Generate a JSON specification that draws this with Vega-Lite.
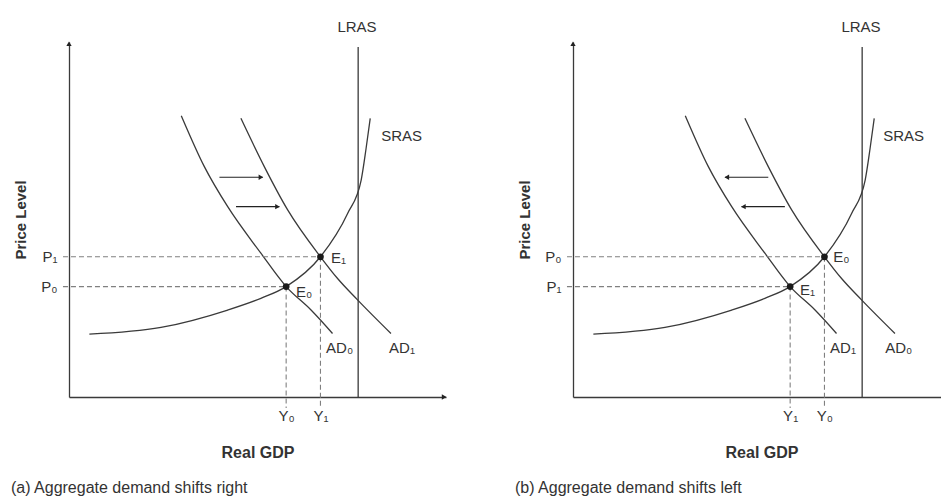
{
  "$schema": "https://vega.github.io/schema/vega-lite/v6.json",
  "autosize": {"type": "pad"},
  "padding": {"left": 10, "top": 20, "right": 0, "bottom": 0},
  "background": "white",
  "bounds": "flush",
  "spacing": 127,
  "config": {
    "view": {"stroke": null},
    "font": "Liberation Sans",
    "axis": {
      "grid": false, "ticks": false,
      "domainColor": "#3a3a3a", "domainWidth": 1.3,
      "labelFont": "Liberation Sans", "labelFontSize": 15, "labelColor": "#333",
      "titleFont": "Liberation Sans", "titleFontSize": 15, "titleFontWeight": "bold", "titleColor": "#333"
    }
  },
  "datasets": {
    "curves": [
      {"curve": "ADL", "ord": 1, "x": 29.8, "y": 79.2},
      {"curve": "ADL", "ord": 2, "x": 35.9, "y": 64.9},
      {"curve": "ADL", "ord": 3, "x": 42.1, "y": 53.6},
      {"curve": "ADL", "ord": 4, "x": 50.9, "y": 40.5},
      {"curve": "ADL", "ord": 5, "x": 57.6, "y": 31.1},
      {"curve": "ADL", "ord": 6, "x": 64.2, "y": 24.5},
      {"curve": "ADL", "ord": 7, "x": 69.9, "y": 17.9},
      {"curve": "ADR", "ord": 1, "x": 45.6, "y": 78.5},
      {"curve": "ADR", "ord": 2, "x": 51.8, "y": 64.9},
      {"curve": "ADR", "ord": 3, "x": 58.0, "y": 52.7},
      {"curve": "ADR", "ord": 4, "x": 66.7, "y": 39.5},
      {"curve": "ADR", "ord": 5, "x": 71.3, "y": 33.3},
      {"curve": "ADR", "ord": 6, "x": 76.6, "y": 27.3},
      {"curve": "ADR", "ord": 7, "x": 85.4, "y": 17.9},
      {"curve": "SRAS", "ord": 1, "x": 5.4, "y": 17.7},
      {"curve": "SRAS", "ord": 2, "x": 24.4, "y": 19.6},
      {"curve": "SRAS", "ord": 3, "x": 42.1, "y": 24.5},
      {"curve": "SRAS", "ord": 4, "x": 50.9, "y": 27.8},
      {"curve": "SRAS", "ord": 5, "x": 57.6, "y": 31.1},
      {"curve": "SRAS", "ord": 6, "x": 66.7, "y": 39.5},
      {"curve": "SRAS", "ord": 7, "x": 73.9, "y": 51.7},
      {"curve": "SRAS", "ord": 8, "x": 77.5, "y": 61.1},
      {"curve": "SRAS", "ord": 9, "x": 78.8, "y": 70.0},
      {"curve": "SRAS", "ord": 10, "x": 79.9, "y": 78.5}
    ],
    "lras": [{"x": 76.7, "y": 0, "y2": 98.6}],
    "guides": [
      {"x": -1.6, "x2": 57.6, "y": 31.1, "y2": 31.1},
      {"x": -1.6, "x2": 66.7, "y": 39.5, "y2": 39.5},
      {"x": 57.6, "x2": 57.6, "y": 31.1, "y2": -3.1},
      {"x": 66.7, "x2": 66.7, "y": 39.5, "y2": -3.1}
    ],
    "eq": [{"x": 57.6, "y": 31.1}, {"x": 66.7, "y": 39.5}],
    "arrows": [
      {"panel": "a", "x": 39.9, "x2": 51.4, "y": 61.9},
      {"panel": "a", "x": 44.3, "x2": 55.8, "y": 53.6},
      {"panel": "b", "x": 40.3, "x2": 51.8, "y": 61.9},
      {"panel": "b", "x": 44.7, "x2": 56.2, "y": 53.6}
    ],
    "heads": [
      {"panel": "a", "x": 50.9, "y": 61.9, "shape": "triangle-right"},
      {"panel": "a", "x": 55.3, "y": 53.6, "shape": "triangle-right"},
      {"panel": "a", "x": 0, "y": 99.5, "shape": "triangle-up"},
      {"panel": "a", "x": 99.5, "y": 0, "shape": "triangle-right"},
      {"panel": "b", "x": 40.8, "y": 61.9, "shape": "triangle-left"},
      {"panel": "b", "x": 45.2, "y": 53.6, "shape": "triangle-left"},
      {"panel": "b", "x": 0, "y": 99.5, "shape": "triangle-up"},
      {"panel": "b", "x": 99.5, "y": 0, "shape": "triangle-right"}
    ],
    "labels": [
      {"panel": "a", "text": "SRAS", "x": 82.8, "y": 73.5},
      {"panel": "a", "text": "E\u2081", "x": 69.5, "y": 39.2},
      {"panel": "a", "text": "E\u2080", "x": 60.2, "y": 29.6},
      {"panel": "a", "text": "AD\u2080", "x": 68.2, "y": 13.8},
      {"panel": "a", "text": "AD\u2081", "x": 84.9, "y": 13.8},
      {"panel": "b", "text": "SRAS", "x": 82.3, "y": 73.5},
      {"panel": "b", "text": "E\u2080", "x": 69.0, "y": 39.5},
      {"panel": "b", "text": "E\u2081", "x": 60.2, "y": 30.1},
      {"panel": "b", "text": "AD\u2081", "x": 68.2, "y": 13.8},
      {"panel": "b", "text": "AD\u2080", "x": 82.8, "y": 13.8}
    ],
    "tops": [{"text": "LRAS", "x": 76.4, "y": 104.2}],
    "captions": [
      {"panel": "a", "text": "(a) Aggregate demand shifts right", "x": -15.4, "y": -25.6},
      {"panel": "b", "text": "(b) Aggregate demand shifts left", "x": -15.4, "y": -25.6}
    ]
  },
  "hconcat": [
    {
      "width": 377, "height": 355,
      "encoding": {
        "x": {"field": "x", "type": "quantitative", "scale": {"domain": [0, 100], "nice": false, "zero": false},
              "axis": {"values": [57.6, 66.7], "labelExpr": "datum.value < 60 ? 'Y\u2080' : 'Y\u2081'", "title": "Real GDP", "labelPadding": 11, "titlePadding": 21, "titleFontSize": 16}},
        "y": {"field": "y", "type": "quantitative", "scale": {"domain": [0, 100], "nice": false, "zero": false},
              "axis": {"values": [31.1, 39.5], "labelExpr": "datum.value < 35 ? 'P\u2080' : 'P\u2081'", "title": "Price Level", "labelPadding": 12, "titlePadding": 12}}
      },
      "layer": [
        {"data": {"name": "curves"}, "mark": {"type": "line", "interpolate": "monotone", "color": "#3a3a3a", "strokeWidth": 1.3, "clip": false},
         "encoding": {"detail": {"field": "curve"}, "order": {"field": "ord", "type": "quantitative"}}},
        {"data": {"name": "lras"}, "mark": {"type": "rule", "color": "#3a3a3a", "strokeWidth": 1.3},
         "encoding": {"y2": {"field": "y2"}}},
        {"data": {"name": "guides"}, "mark": {"type": "rule", "color": "#808080", "strokeWidth": 1.1, "strokeDash": [5, 3]},
         "encoding": {"x2": {"field": "x2"}, "y2": {"field": "y2"}}},
        {"data": {"name": "arrows"}, "transform": [{"filter": "datum.panel == 'a'"}], "mark": {"type": "rule", "color": "#222", "strokeWidth": 1.2},
         "encoding": {"x2": {"field": "x2"}}},
        {"data": {"name": "heads"}, "transform": [{"filter": "datum.panel == 'a'"}], "mark": {"type": "point", "filled": true, "color": "#222", "size": 28, "opacity": 1},
         "encoding": {"shape": {"field": "shape", "type": "nominal", "scale": null}}},
        {"data": {"name": "eq"}, "mark": {"type": "circle", "color": "#1a1a1a", "size": 45, "opacity": 1}, "encoding": {}},
        {"data": {"name": "labels"}, "transform": [{"filter": "datum.panel == 'a'"}], "mark": {"type": "text", "align": "left", "baseline": "middle", "fontSize": 15, "color": "#333"},
         "encoding": {"text": {"field": "text"}}},
        {"data": {"name": "tops"}, "mark": {"type": "text", "align": "center", "baseline": "middle", "fontSize": 15, "color": "#333"},
         "encoding": {"text": {"field": "text"}}},
        {"data": {"name": "captions"}, "transform": [{"filter": "datum.panel == 'a'"}], "mark": {"type": "text", "align": "left", "baseline": "middle", "fontSize": 16, "color": "#333"},
         "encoding": {"text": {"field": "text"}}}
      ]
    },
    {
      "width": 377, "height": 355,
      "encoding": {
        "x": {"field": "x", "type": "quantitative", "scale": {"domain": [0, 100], "nice": false, "zero": false},
              "axis": {"values": [57.6, 66.7], "labelExpr": "datum.value < 60 ? 'Y\u2081' : 'Y\u2080'", "title": "Real GDP", "labelPadding": 11, "titlePadding": 21, "titleFontSize": 16}},
        "y": {"field": "y", "type": "quantitative", "scale": {"domain": [0, 100], "nice": false, "zero": false},
              "axis": {"values": [31.1, 39.5], "labelExpr": "datum.value < 35 ? 'P\u2081' : 'P\u2080'", "title": "Price Level", "labelPadding": 12, "titlePadding": 12}}
      },
      "layer": [
        {"data": {"name": "curves"}, "mark": {"type": "line", "interpolate": "monotone", "color": "#3a3a3a", "strokeWidth": 1.3, "clip": false},
         "encoding": {"detail": {"field": "curve"}, "order": {"field": "ord", "type": "quantitative"}}},
        {"data": {"name": "lras"}, "mark": {"type": "rule", "color": "#3a3a3a", "strokeWidth": 1.3},
         "encoding": {"y2": {"field": "y2"}}},
        {"data": {"name": "guides"}, "mark": {"type": "rule", "color": "#808080", "strokeWidth": 1.1, "strokeDash": [5, 3]},
         "encoding": {"x2": {"field": "x2"}, "y2": {"field": "y2"}}},
        {"data": {"name": "arrows"}, "transform": [{"filter": "datum.panel == 'b'"}], "mark": {"type": "rule", "color": "#222", "strokeWidth": 1.2},
         "encoding": {"x2": {"field": "x2"}}},
        {"data": {"name": "heads"}, "transform": [{"filter": "datum.panel == 'b'"}], "mark": {"type": "point", "filled": true, "color": "#222", "size": 28, "opacity": 1},
         "encoding": {"shape": {"field": "shape", "type": "nominal", "scale": null}}},
        {"data": {"name": "eq"}, "mark": {"type": "circle", "color": "#1a1a1a", "size": 45, "opacity": 1}, "encoding": {}},
        {"data": {"name": "labels"}, "transform": [{"filter": "datum.panel == 'b'"}], "mark": {"type": "text", "align": "left", "baseline": "middle", "fontSize": 15, "color": "#333"},
         "encoding": {"text": {"field": "text"}}},
        {"data": {"name": "tops"}, "mark": {"type": "text", "align": "center", "baseline": "middle", "fontSize": 15, "color": "#333"},
         "encoding": {"text": {"field": "text"}}},
        {"data": {"name": "captions"}, "transform": [{"filter": "datum.panel == 'b'"}], "mark": {"type": "text", "align": "left", "baseline": "middle", "fontSize": 16, "color": "#333"},
         "encoding": {"text": {"field": "text"}}}
      ]
    }
  ]
}
